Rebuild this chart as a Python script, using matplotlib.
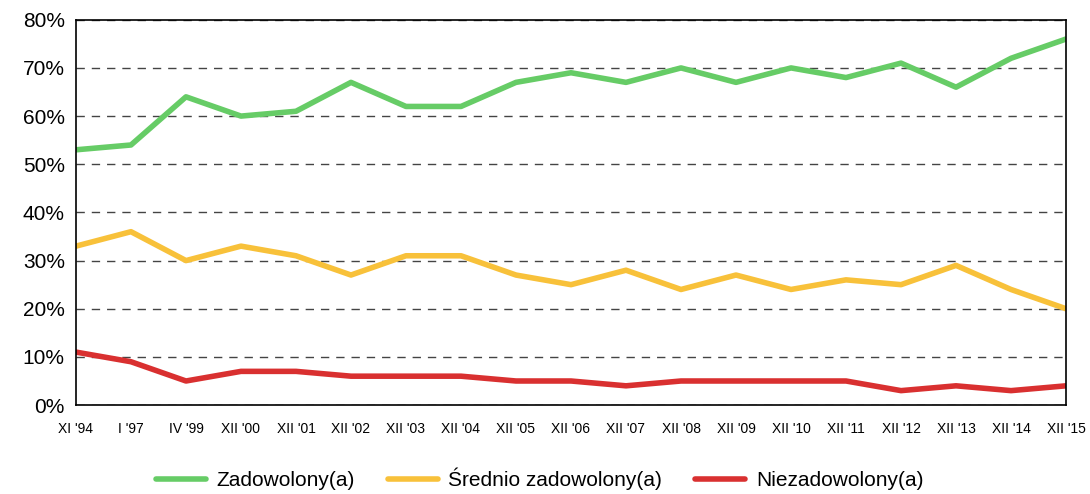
import matplotlib
matplotlib.use("Agg")
import matplotlib.pyplot as plt
from matplotlib.ticker import PercentFormatter

# ---------------- data ----------------
labels = ["XI '94", "I '97", "IV '99", "XII '00", "XII '01", "XII '02", "XII '03",
          "XII '04", "XII '05", "XII '06", "XII '07", "XII '08", "XII '09", "XII '10",
          "XII '11", "XII '12", "XII '13", "XII '14", "XII '15"]
zadowolony = [53, 54, 64, 60, 61, 67, 62, 62, 67, 69, 67, 70, 67, 70, 68, 71, 66, 72, 76]
srednio = [33, 36, 30, 33, 31, 27, 31, 31, 27, 25, 28, 24, 27, 24, 26, 25, 29, 24, 20]
niezadowolony = [11, 9, 5, 7, 7, 6, 6, 6, 5, 5, 4, 5, 5, 5, 5, 3, 4, 3, 4]

plt.rcParams['font.family'] = ['Liberation Sans', 'DejaVu Sans']

fig = plt.figure(figsize=(10.9, 4.94), dpi=100)
ax = fig.add_axes([0.0697, 0.180, 0.9083, 0.780])

x = range(len(labels))
ax.plot(x, zadowolony, color="#66cc66", lw=4, label="Zadowolony(a)", solid_capstyle="round")
ax.plot(x, srednio, color="#f8c13a", lw=4, label="Średnio zadowolony(a)", solid_capstyle="round")
ax.plot(x, niezadowolony, color="#d93030", lw=4, label="Niezadowolony(a)", solid_capstyle="round")

ax.set_xlim(0, len(labels) - 1)
ax.set_ylim(0, 80)
ax.set_yticks(range(0, 81, 10))
ax.yaxis.set_major_formatter(PercentFormatter(decimals=0))
ax.set_xticks(list(x))
ax.set_xticklabels(labels, fontsize=10)
ax.tick_params(axis='y', labelsize=15, length=0, pad=8)
ax.tick_params(axis='x', length=0, pad=12)

ax.grid(axis='y', color="#444444", ls=(0, (6, 5)), lw=1)
ax.set_axisbelow(True)
for s in ax.spines.values():
    s.set_color("black")
    s.set_linewidth(1.2)

fig.legend(loc='center', bbox_to_anchor=(0.495, 0.03), ncol=3, frameon=False,
           fontsize=15, handlelength=2.4, columnspacing=1.6, handletextpad=0.5)

fig.savefig("out.png", dpi=100)
